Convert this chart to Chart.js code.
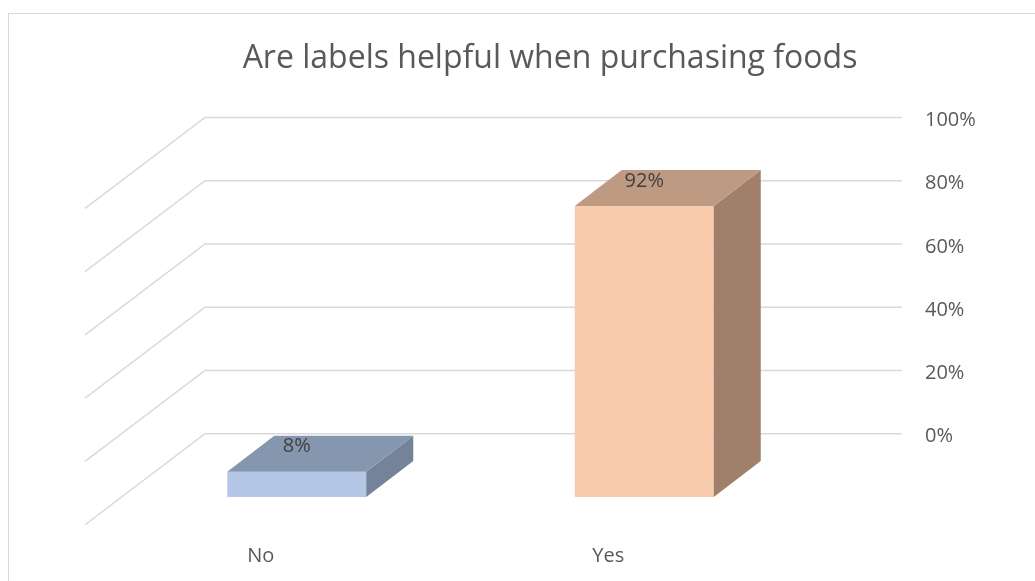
<!DOCTYPE html>
<html>
<head>
<meta charset="utf-8">
<title>Are labels helpful when purchasing foods</title>
<script src="https://cdn.jsdelivr.net/npm/chart.js@4"></script>
<style>
    html, body { margin: 0; padding: 0; background: #fff; overflow: hidden; }
    #frame {
        position: absolute; left: 8px; top: 13px;
        width: 1100px; height: 700px;
        border: 1px solid #d9d9d9;
    }
    #chart { position: absolute; left: 0; top: 0; }
</style>
</head>
<body>
<div id="frame"></div>
<canvas id="chart" width="1035" height="581"></canvas>
<script>
const categories = ['No', 'Yes'];
const shares = [8, 92];
const axisTicks = [0, 20, 40, 60, 80, 100];

const frontColors = ['#b4c7e7', '#f8cbad'];
const topColors = ['#8597ae', '#bf9a83'];
const sideColors = ['#748399', '#a0806a'];

const fontFamily = '"Open Sans", "Liberation Sans", sans-serif';
const textColor = '#595959';

// depth of each column and of the floor/side wall, in pixels
const barDepth = { dx: 47, dy: 36 };
const wallDepth = { dx: -120, dy: 91 };

// back wall + left wall gridlines, drawn behind the columns
const wallPlugin = {
    id: 'wall',
    beforeDatasetsDraw(chart) {
        const ctx = chart.ctx;
        const yBack = chart.scales.yBack;
        const area = chart.chartArea;
        const left = area.left + 82;
        const right = area.right + 84;
        ctx.save();
        ctx.strokeStyle = '#d9d9d9';
        ctx.lineWidth = 1.5;
        yBack.ticks.forEach((t) => {
            const py = yBack.getPixelForValue(t.value);
            ctx.beginPath();
            ctx.moveTo(left + wallDepth.dx, py + wallDepth.dy);
            ctx.lineTo(left, py);
            ctx.lineTo(right, py);
            ctx.stroke();
        });
        ctx.restore();
    }
};

// top and side faces of each column, plus the value label
const boxPlugin = {
    id: 'box3d',
    afterDatasetsDraw(chart) {
        const ctx = chart.ctx;
        const meta = chart.getDatasetMeta(0);
        ctx.save();
        meta.data.forEach((bar, i) => {
            const l = bar.x - bar.width / 2;
            const r = bar.x + bar.width / 2;
            const top = bar.y;
            const base = bar.base;
            const dx = barDepth.dx, dy = barDepth.dy;

            ctx.fillStyle = sideColors[i];
            ctx.beginPath();
            ctx.moveTo(r, top);
            ctx.lineTo(r + dx, top - dy);
            ctx.lineTo(r + dx, base - dy);
            ctx.lineTo(r, base);
            ctx.closePath();
            ctx.fill();

            ctx.fillStyle = topColors[i];
            ctx.beginPath();
            ctx.moveTo(l, top);
            ctx.lineTo(l + dx, top - dy);
            ctx.lineTo(r + dx, top - dy);
            ctx.lineTo(r, top);
            ctx.closePath();
            ctx.fill();

            ctx.fillStyle = '#404040';
            ctx.font = '20px ' + fontFamily;
            ctx.textAlign = 'center';
            ctx.textBaseline = 'middle';
            ctx.fillText(shares[i] + '%', bar.x, top - 25);
        });
        ctx.restore();
    }
};

new Chart(document.getElementById('chart'), {
    type: 'bar',
    data: {
        labels: categories,
        datasets: [{
            data: shares,
            backgroundColor: frontColors,
            borderWidth: 0,
            categoryPercentage: 1,
            barPercentage: 0.4,
            yAxisID: 'y'
        }]
    },
    options: {
        responsive: false,
        animation: false,
        layout: { padding: { left: 123, right: 58, top: 0, bottom: 0 } },
        plugins: {
            legend: { display: false },
            tooltip: { enabled: false },
            title: {
                display: true,
                text: 'Are labels helpful when purchasing foods',
                color: textColor,
                font: { family: fontFamily, size: 32, weight: 'normal' },
                padding: { top: 40, bottom: 39 }
            }
        },
        scales: {
            x: {
                grid: { display: false, drawTicks: false },
                border: { display: false },
                ticks: {
                    labelOffset: -36,
                    padding: 47,
                    color: textColor,
                    font: { family: fontFamily, size: 20 }
                },
                afterFit: (scale) => { scale.height = 84; }
            },
            y: {
                display: false,
                min: 0,
                max: 120
            },
            yBack: {
                position: 'right',
                min: -20,
                max: 100,
                grid: { display: false, drawTicks: false },
                border: { display: false },
                afterBuildTicks: (scale) => {
                    scale.ticks = axisTicks.map((v) => ({ value: v }));
                },
                ticks: {
                    padding: 107,
                    labelOffset: 3,
                    color: textColor,
                    font: { family: fontFamily, size: 20 },
                    callback: (v) => v + '%'
                },
                afterFit: (scale) => {
                    scale.width = 159;
                    scale.paddingTop = 0;
                    scale.paddingBottom = 0;
                }
            }
        }
    },
    plugins: [wallPlugin, boxPlugin]
});
</script>
</body>
</html>
